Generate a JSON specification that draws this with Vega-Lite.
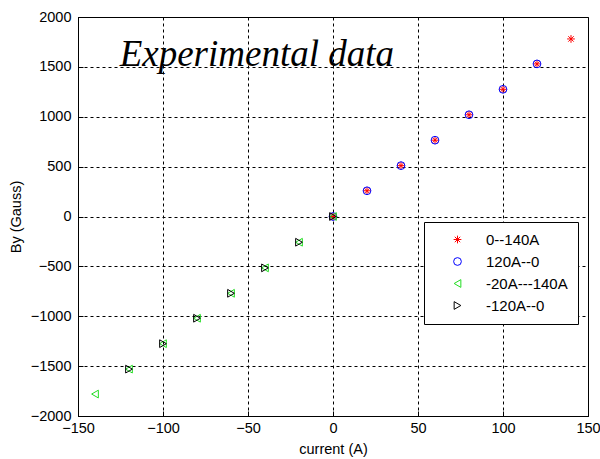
{
  "$schema": "https://vega.github.io/schema/vega-lite/v6.json",
  "autosize": "none",
  "width": 510,
  "height": 399,
  "padding": {"left": 78, "top": 17, "right": 12, "bottom": 43},
  "background": "white",
  "config": {
    "view": {"stroke": "black", "strokeWidth": 1},
    "font": "Liberation Sans",
    "axis": {
      "labelFont": "Liberation Sans",
      "titleFont": "Liberation Sans",
      "labelFontSize": 14.5,
      "titleFontSize": 14.5,
      "titleFontWeight": "normal",
      "labelColor": "black",
      "titleColor": "black",
      "domainColor": "black",
      "tickColor": "black",
      "gridColor": "black",
      "gridDash": [3, 3],
      "gridOpacity": 1,
      "gridWidth": 1
    }
  },
  "layer": [
    {
      "data": {
        "values": [
          {"current": 0, "By": 0, "series": "0--140A"},
          {"current": 20, "By": 258, "series": "0--140A"},
          {"current": 40, "By": 510, "series": "0--140A"},
          {"current": 60, "By": 765, "series": "0--140A"},
          {"current": 80, "By": 1020, "series": "0--140A"},
          {"current": 100, "By": 1275, "series": "0--140A"},
          {"current": 120, "By": 1530, "series": "0--140A"},
          {"current": 140, "By": 1780, "series": "0--140A"},
          {"current": 120, "By": 1530, "series": "120A--0"},
          {"current": 100, "By": 1275, "series": "120A--0"},
          {"current": 80, "By": 1020, "series": "120A--0"},
          {"current": 60, "By": 765, "series": "120A--0"},
          {"current": 40, "By": 510, "series": "120A--0"},
          {"current": 20, "By": 258, "series": "120A--0"},
          {"current": 0, "By": 0, "series": "120A--0"},
          {"current": 0, "By": 0, "series": "-20A---140A"},
          {"current": -20, "By": -258, "series": "-20A---140A"},
          {"current": -40, "By": -515, "series": "-20A---140A"},
          {"current": -60, "By": -770, "series": "-20A---140A"},
          {"current": -80, "By": -1020, "series": "-20A---140A"},
          {"current": -100, "By": -1275, "series": "-20A---140A"},
          {"current": -120, "By": -1530, "series": "-20A---140A"},
          {"current": -140, "By": -1780, "series": "-20A---140A"},
          {"current": -120, "By": -1530, "series": "-120A--0"},
          {"current": -100, "By": -1275, "series": "-120A--0"},
          {"current": -80, "By": -1020, "series": "-120A--0"},
          {"current": -60, "By": -770, "series": "-120A--0"},
          {"current": -40, "By": -515, "series": "-120A--0"},
          {"current": -20, "By": -258, "series": "-120A--0"},
          {"current": 0, "By": 0, "series": "-120A--0"}
        ]
      },
      "mark": {"type": "point", "filled": false, "strokeWidth": 1, "size": 60, "opacity": 1},
      "encoding": {
        "x": {
          "field": "current", "type": "quantitative",
          "scale": {"domain": [-150, 150], "nice": false, "zero": false},
          "axis": {"title": "current (A)", "format": "d", "values": [-150, -100, -50, 0, 50, 100, 150], "tickSize": -5, "labelPadding": 10, "titlePadding": 8, "grid": true, "labelFlush": false}
        },
        "y": {
          "field": "By", "type": "quantitative",
          "scale": {"domain": [-2000, 2000], "nice": false, "zero": false},
          "axis": {"title": "By (Gauss)", "format": "d", "values": [-2000, -1500, -1000, -500, 0, 500, 1000, 1500, 2000], "tickSize": -5, "labelPadding": 12, "titlePadding": 7, "grid": true, "labelFlush": false}
        },
        "color": {
          "field": "series", "type": "nominal",
          "scale": {"domain": ["0--140A", "120A--0", "-20A---140A", "-120A--0"], "range": ["#ff0000", "#0000ff", "#22dd22", "#000000"]},
          "legend": {
            "title": null,
            "orient": "none",
            "legendX": 346,
            "legendY": 205,
            "strokeColor": "black",
            "fillColor": "white",
            "padding": 10,
            "labelFontSize": 15,
            "labelFont": "Liberation Sans",
            "labelColor": "black",
            "rowPadding": 6,
            "symbolSize": 60,
            "symbolStrokeWidth": 1,
            "labelOffset": 21,
            "offset": 0,
            "labelLimit": 200,
            "symbolOffset": 16
          }
        },
        "shape": {
          "field": "series", "type": "nominal",
          "scale": {"domain": ["0--140A", "120A--0", "-20A---140A", "-120A--0"], "range": ["M-1,0L1,0M0,-1L0,1M-0.7,-0.7L0.7,0.7M-0.7,0.7L0.7,-0.7", "circle", "triangle-left", "triangle-right"]},
          "legend": null
        }
      }
    },
    {
      "data": {"values": [{"label": "Experimental data"}]},
      "mark": {"type": "text", "font": "Liberation Serif", "fontStyle": "italic", "fontWeight": "normal", "fontSize": 37, "align": "left", "baseline": "alphabetic", "color": "black"},
      "encoding": {
        "x": {"datum": -125.5},
        "y": {"datum": 1510},
        "text": {"field": "label", "type": "nominal"}
      }
    }
  ]
}
